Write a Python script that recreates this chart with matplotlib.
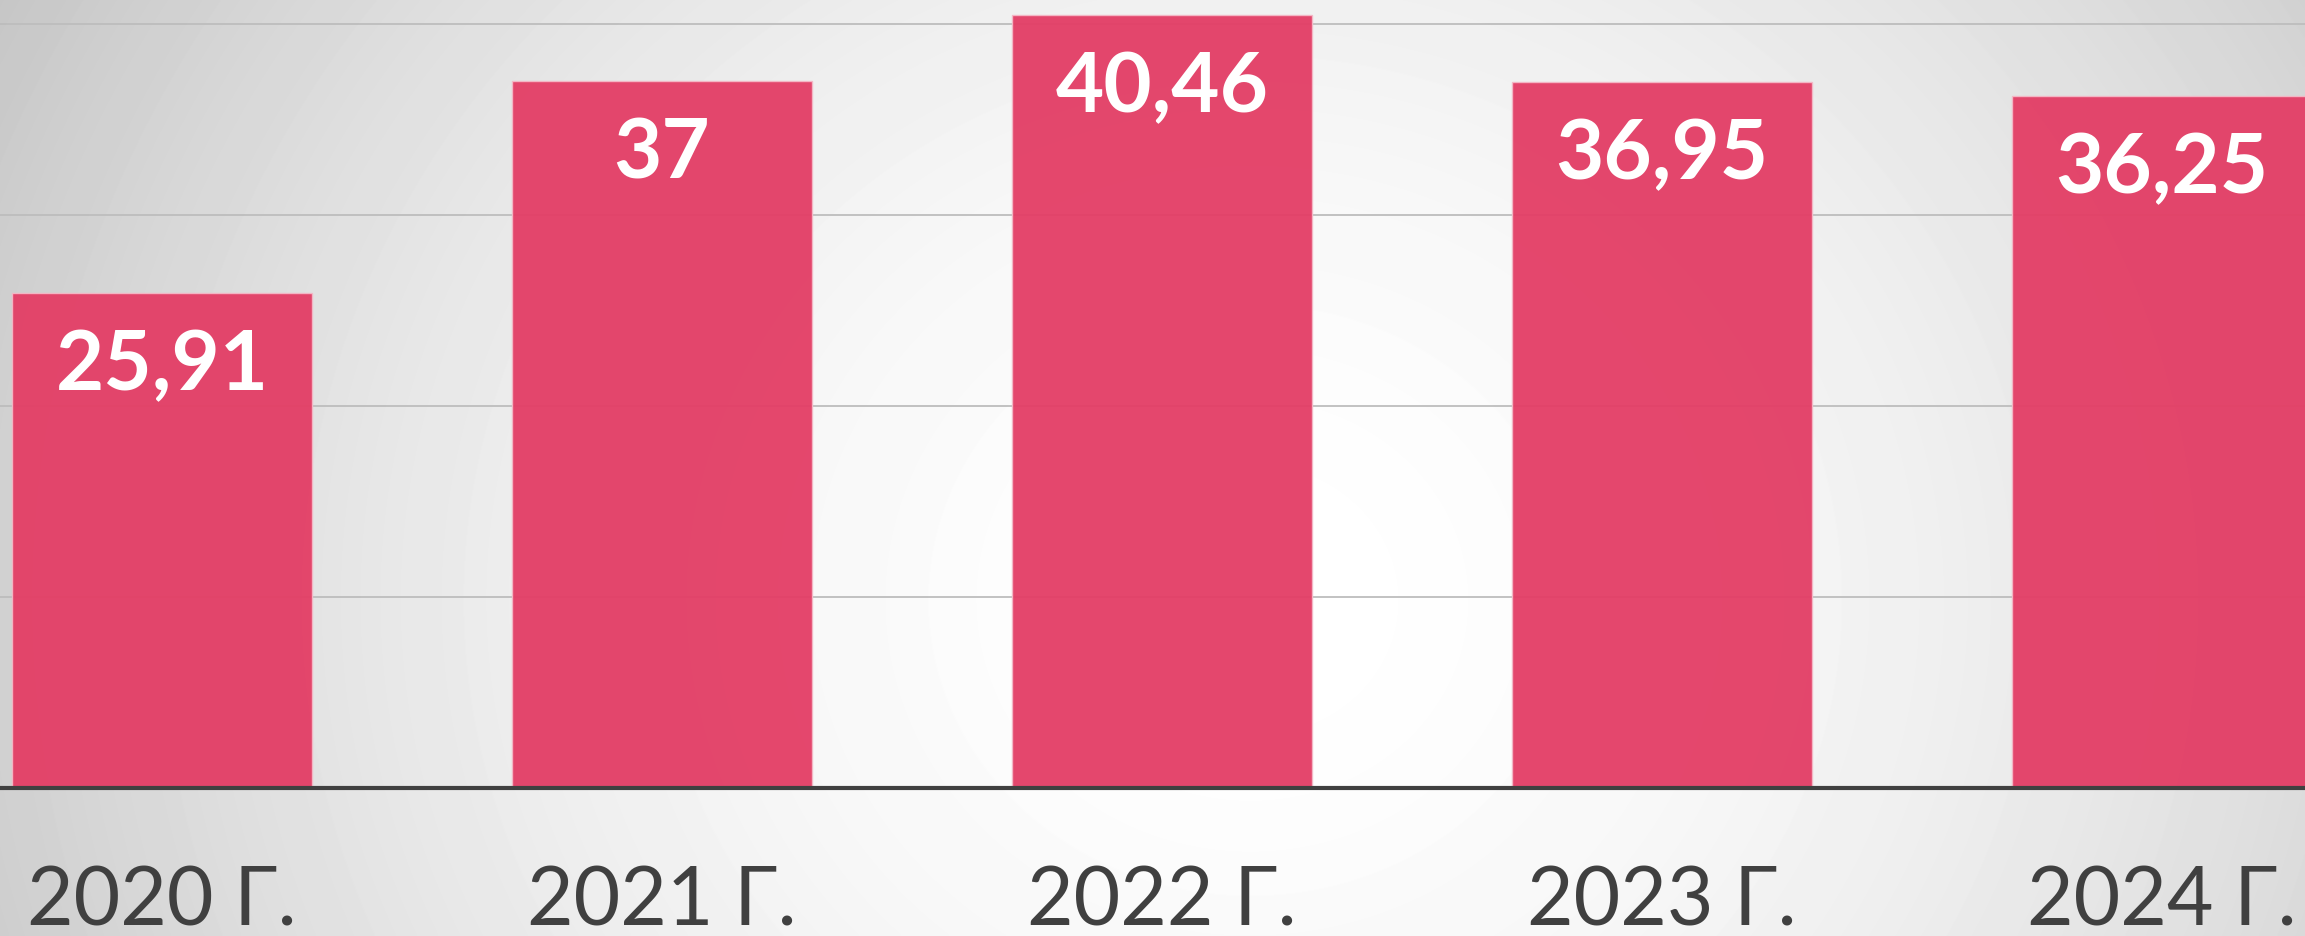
import matplotlib.pyplot as plt
import numpy as np

# chart data
years = ['2020 Г.', '2021 Г.', '2022 Г.', '2023 Г.', '2024 Г.']
values = [25.91, 37, 40.46, 36.95, 36.25]
value_labels = ['25,91', '37', '40,46', '36,95', '36,25']
grid_levels = [10, 20, 30, 40]

W, H, DPI = 2305, 936, 100
fig = plt.figure(figsize=(W / DPI, H / DPI), dpi=DPI)

# radial grey background, white in the middle
bg = fig.add_axes([0, 0, 1, 1], zorder=-10)
yy, xx = np.mgrid[0:H, 0:W]
r = np.sqrt(((xx - 1250) / 1250.0) ** 2 + ((yy - 600) / 1150.0) ** 2)
shade = 1 - 0.18 * np.clip(r, 0, 1.3) ** 1.8
bg.imshow(shade, cmap='gray', vmin=0, vmax=1, aspect='auto', interpolation='bilinear')
bg.axis('off')

ax = fig.add_axes([0, 148 / H, 1, 788 / H])
ax.set_facecolor('none')

x = np.arange(len(values))
for lvl in grid_levels:
    ax.axhline(lvl, color='#bdbdbd', lw=1.3, zorder=1)

ax.bar(x, values, width=0.6, color='#e33d65', alpha=0.95,
       edgecolor='#f4b8c6', linewidth=1, zorder=2)

for xi, v, lab in zip(x, values, value_labels):
    ax.annotate(lab, (xi, v), xytext=(0, -70), textcoords='offset points',
                ha='center', va='baseline', color='white', fontsize=60,
                fontweight='bold', family='Lato', zorder=4)

ax.axhline(0, color='#404040', lw=3, zorder=3, clip_on=False)

ax.set_xlim(-0.324, 4.286)
ax.set_ylim(0, 41.25)
ax.set_yticks([])
ax.set_xticks(x)
ax.set_xticklabels(years, fontsize=58, color='#404040', family='Lato',
                   fontweight='normal', va='baseline')
ax.tick_params(axis='x', length=0, pad=99)
for s in ax.spines.values():
    s.set_visible(False)

fig.savefig('out.png', dpi=DPI)
